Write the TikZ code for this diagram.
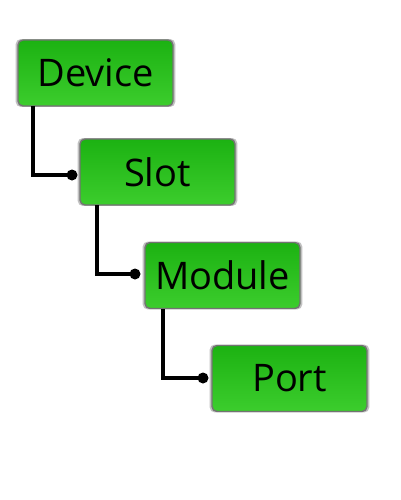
\documentclass[tikz,border=0pt]{standalone}
\usepackage{fontspec}
\setmainfont{Open Sans}
\usetikzlibrary{shadows}
\definecolor{gtop}{RGB}{28,178,18}
\definecolor{gbot}{RGB}{60,205,45}
\tikzset{
  box/.style={draw=black!55, line width=1.4pt, rounded corners=5pt,
    top color=gtop, bottom color=gbot, minimum width=155pt, minimum height=66pt,
    inner sep=0pt, font=\fontsize{38}{40}\selectfont,
    drop shadow={shadow xshift=0pt, shadow yshift=0pt, opacity=0.35, fill=black!70, shadow scale=1.03}},
  conn/.style={line width=3.5pt, black},
  jdot/.style={circle, fill=black, inner sep=0pt, minimum size=11pt}
}
\begin{document}
\begin{tikzpicture}[x=1pt,y=-1pt]
\useasboundingbox (0,0) rectangle (400,500);
\node[box] (device) at (95.5,73) {Device};
\node[box] (slot) at (157.5,172) {Slot};
\node[box] (module) at (222.5,275.5) {Module};
\node[box] (port) at (289.5,378.5) {Port};
\coordinate (c1) at (33,106);
\coordinate (c2) at (97,205);
\coordinate (c3) at (163,309);
\node[jdot] (d1) at (72,175) {};
\node[jdot] (d2) at (135,274) {};
\node[jdot] (d3) at (203,378) {};
\draw[conn] (c1) |- (d1.center);
\draw[conn] (c2) |- (d2.center);
\draw[conn] (c3) |- (d3.center);
\end{tikzpicture}
\end{document}
